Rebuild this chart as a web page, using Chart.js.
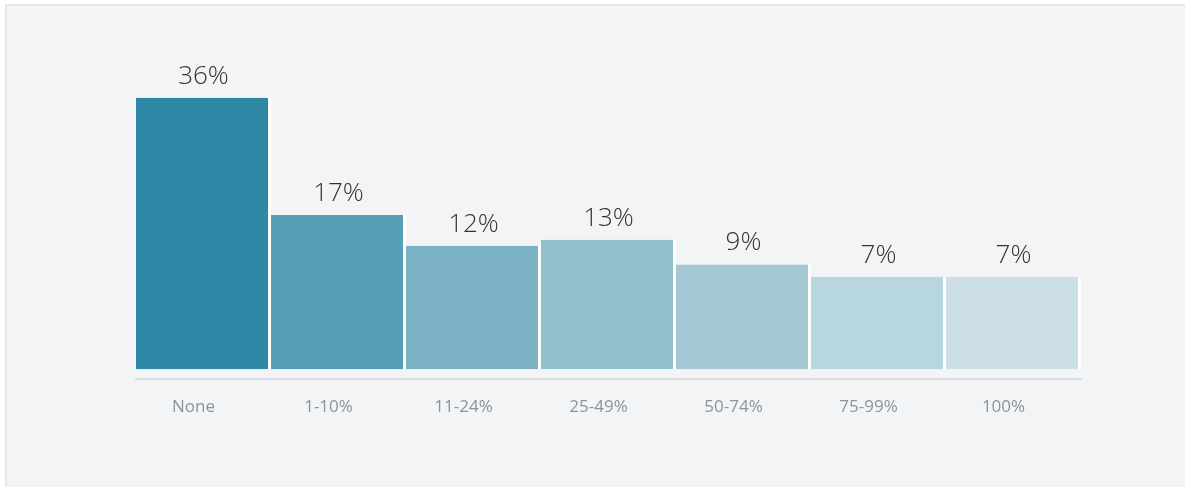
<!DOCTYPE html>
<html>
<head>
<meta charset="utf-8">
<script src="https://cdn.jsdelivr.net/npm/chart.js@4/dist/chart.umd.min.js"></script>
<style>
  html, body { margin: 0; padding: 0; background: #fff; overflow: hidden; width: 1185px; height: 487px; }
  .panel {
    position: absolute; left: 5px; top: 4px; width: 1250px; height: 550px;
    background: #f3f4f6; border-left: 2px solid #e6e7e9; border-top: 2px solid #e6e7e9;
  }
  .wrap { position: absolute; left: 0; top: 0; width: 1185px; height: 487px; }
</style>
</head>
<body>
<div class="panel"></div>
<div class="wrap"><canvas id="shareChart"></canvas></div>
<script>
const categories = ['None', '1-10%', '11-24%', '25-49%', '50-74%', '75-99%', '100%'];
const shares = [36, 17, 12, 13, 9, 7, 7];
const barColors = ['#2e89a6', '#569fb6', '#7cb3c4', '#93bfcd', '#a5c9d4', '#b8d6de', '#cddfe6'];

// value labels sitting above each bar
const valueLabels = {
  id: 'valueLabels',
  afterDatasetsDraw(chart) {
    const { ctx } = chart;
    const meta = chart.getDatasetMeta(0);
    ctx.save();
    ctx.font = '300 26px "Open Sans"';
    ctx.fillStyle = '#333333';
    ctx.textAlign = 'center';
    ctx.textBaseline = 'alphabetic';
    meta.data.forEach((bar, i) => {
      ctx.fillText(`${shares[i]}%`, bar.x, bar.y - 14);
    });
    ctx.restore();
  },
};

new Chart(document.getElementById('shareChart'), {
  type: 'bar',
  data: {
    labels: categories,
    datasets: [{
      data: shares,
      base: -8,
      backgroundColor: barColors,
      borderColor: '#ffffff',
      borderWidth: { left: 0, right: 3, top: 0, bottom: 0 },
      borderSkipped: false,
      inflateAmount: 0,
      barPercentage: 1,
      categoryPercentage: 1,
    }],
  },
  options: {
    responsive: true,
    maintainAspectRatio: false,
    animation: false,
    layout: { padding: { left: 136, right: 104, top: 73, bottom: 52 } },
    plugins: { legend: { display: false }, tooltip: { enabled: false } },
    scales: {
      x: {
        grid: { display: false, drawTicks: false },
        border: { display: true, color: '#dcdee1', width: 2 },
        ticks: {
          color: '#8795a1',
          font: { family: 'Open Sans', size: 17 },
          padding: 18,
          labelOffset: -10,
          maxRotation: 0,
        },
      },
      y: { display: false, min: -9.5, max: 40 },
    },
  },
  plugins: [valueLabels],
});
</script>
</body>
</html>
